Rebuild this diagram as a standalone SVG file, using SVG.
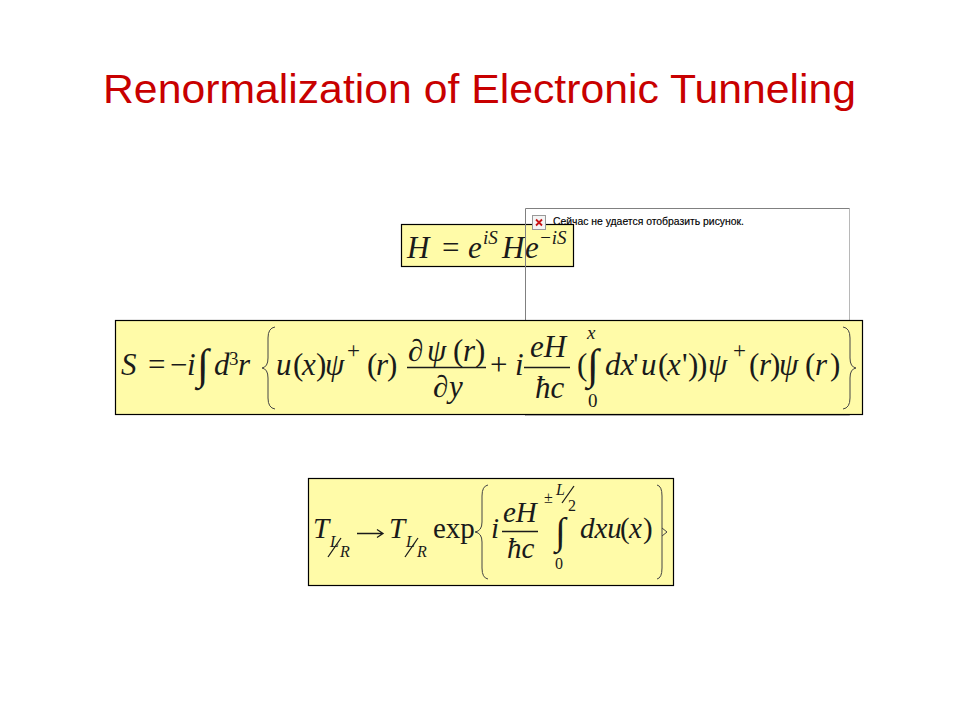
<svg xmlns="http://www.w3.org/2000/svg" width="960" height="720" viewBox="0 0 960 720">
<style>
text{font-family:"Liberation Serif",serif;fill:#1a1a1a}
.i{font-style:italic}
.m{font-size:31px}
.t{font-size:29px}
.s{font-size:19px}
.n{font-size:16px}
.p{font-size:23px}
.int{font-size:43px}
.box{fill:#fffba8;stroke:#000;stroke-width:1.2}
.ln{stroke:#1a1a1a;stroke-width:1.3;fill:none}
.br{stroke:#444;stroke-width:1;fill:none}
</style>
<rect width="960" height="720" fill="#fff"/>
<text x="479.500" y="103" text-anchor="middle" style="font-family:'Liberation Sans',sans-serif;font-size:41px;fill:#c80000" textLength="753" lengthAdjust="spacingAndGlyphs">Renormalization of Electronic Tunneling</text>
<g id="eq-h">
<rect class="box" x="401.500" y="224.500" width="172" height="42"/>
<text class="m i" x="407" y="258">H</text><text class="m" x="442" y="258">=</text><text class="m i" x="468" y="258">e</text><text class="s i" x="483" y="244">iS</text><text class="m i" x="502" y="258">H</text><text class="m i" x="525" y="258">e</text><text class="s i" x="539" y="244">−iS</text>
</g>
<g id="placeholder">
<path d="M525.500 415.500H849.500V208.500" fill="none" stroke="#b8b8b8"/>
<path d="M525.500 415.500V208.500H849.500" fill="none" stroke="#808080"/>
<rect x="532.500" y="215.500" width="13" height="14" fill="#f4f4f4" stroke="#999"/>
<path d="M536 219.500l6 6m0-6l-6 6" stroke="#c81414" stroke-width="1.800"/>
<text x="553" y="225" style="font-family:'Liberation Sans',sans-serif;font-size:10px;fill:#000;stroke:#000;stroke-width:.15" textLength="191" lengthAdjust="spacingAndGlyphs">Сейчас не удается отобразить рисунок.</text>
</g>
<g id="eq-s">
<rect class="box" x="115.500" y="320.500" width="747" height="94"/>
<text class="m i" x="121" y="375">S</text><text class="m" x="148" y="375">=</text><text class="m" x="170" y="375">−</text><text class="m i" x="187" y="375">i</text>
<text class="int" x="197" y="379">∫</text>
<text class="m i" x="214" y="375">d</text><text class="s" x="229" y="365">3</text><text class="m i" x="238" y="375">r</text>
<path class="br" d="M275 327Q268 328 268 338V358Q268 367 262 368Q268 369 268 378V398Q268 408 275 409"/>
<text class="m i" x="276" y="375">u</text><text class="m" x="293" y="375">(</text><text class="m i" x="302" y="375">x</text><text class="m" x="316" y="375">)</text><text class="m i" x="325" y="375">ψ</text><text class="p" x="347" y="358">+</text><text class="m" x="367" y="375">(</text><text class="m i" x="376" y="375">r</text><text class="m" x="387" y="375">)</text>
<path class="ln" d="M407 367.500H486"/>
<text class="m i" x="408" y="361">∂</text><text class="m i" x="427" y="361">ψ</text><text class="m" x="453" y="361">(</text><text class="m i" x="463" y="361">r</text><text class="m" x="475" y="361">)</text>
<text class="m i" x="433" y="397">∂</text><text class="m i" x="449" y="397">y</text>
<text class="m" x="490" y="375">+</text><text class="m i" x="515" y="375">i</text>
<path class="ln" d="M524 367.500H570"/>
<text class="m i" x="530" y="357">eH</text><text class="m i" x="535" y="398">ħc</text>
<text class="m" x="577" y="375">(</text>
<text class="int" x="587" y="379">∫</text>
<text class="s i" x="587" y="339">x</text><text class="s" x="588" y="407">0</text>
<text class="m i" x="605" y="375">dx</text><text class="m" x="633" y="375">'</text><text class="m i" x="641" y="375">u</text><text class="m" x="658" y="375">(</text><text class="m i" x="667" y="375">x</text><text class="m" x="682" y="375">'</text><text class="m" x="688" y="375">)</text><text class="m" x="697" y="375">)</text><text class="m i" x="708" y="375">ψ</text><text class="p" x="733" y="358">+</text><text class="m" x="749" y="375">(</text><text class="m i" x="759" y="375">r</text><text class="m" x="770" y="375">)</text><text class="m i" x="779" y="375">ψ</text><text class="m" x="805" y="375">(</text><text class="m i" x="815" y="375">r</text><text class="m" x="830" y="375">)</text>
<path class="br" d="M843 327Q850 328 850 338V358Q850 367 856 368Q850 369 850 378V398Q850 408 843 409"/>
</g>
<g id="eq-t">
<rect class="box" x="308.500" y="478.500" width="365" height="107"/>
<text class="t i" x="313" y="538">T</text><text class="n i" x="330" y="547">L</text><path class="ln" d="M328 557L341 538"/><text class="n i" x="340" y="557">R</text>
<path class="ln" d="M357 533.500H382M377 529.500L383 533.500L377 537.500"/>
<text class="t i" x="389" y="538">T</text><text class="n i" x="406" y="547">L</text><path class="ln" d="M405 557L418 538"/><text class="n i" x="417" y="557">R</text>
<text class="t" x="433" y="538">exp</text>
<path class="br" d="M488 485Q482 486 482 496V522Q482 531 475 532Q482 533 482 542V568Q482 578 488 579"/>
<text class="t i" x="491" y="538">i</text>
<path class="ln" d="M502 531.500H538"/>
<text class="t i" x="503" y="522">eH</text><text class="t i" x="507" y="558">ħc</text>
<text class="n" x="544" y="503">±</text><text class="n i" x="556" y="495">L</text><path class="ln" d="M562 503L574 486"/><text class="n" x="568" y="511">2</text>
<text class="int" x="555" y="544" style="font-size:38px">∫</text>
<text class="n" x="555" y="569">0</text>
<text class="t i" x="580" y="538">dxu</text><text class="t" x="620" y="538">(</text><text class="t i" x="629" y="538">x</text><text class="t" x="643" y="538">)</text>
<path class="br" d="M657 485Q662 486 662 496V522Q662 531 662 532Q662 533 662 542V568Q662 578 657 579"/>
<path class="br" d="M662 528L667 532L662 536"/>
</g>
</svg>
